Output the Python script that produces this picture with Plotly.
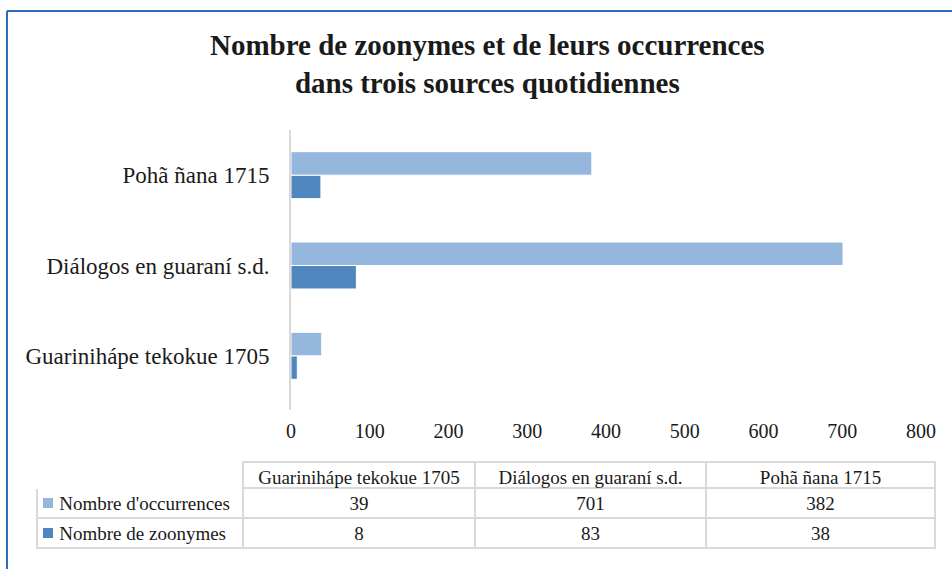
import plotly.graph_objects as go

# ---- data ----
categories = ["Guarinihápe tekokue 1705", "Diálogos en guaraní s.d.", "Pohã ñana 1715"]
occurrences = [39, 701, 382]
zoonymes = [8, 83, 38]
series_names = ["Nombre d'occurrences", "Nombre de zoonymes"]
x_ticks = [0, 100, 200, 300, 400, 500, 600, 700, 800]
title_lines = ["Nombre de zoonymes et de leurs occurrences", "dans trois sources quotidiennes"]

# ---- style ----
W, H = 952, 569
C_OCC = "#95b7de"
C_ZOO = "#4f86be"
GRID = "#d9d9d9"
SERIF = "Liberation Serif, Times New Roman, serif"

def px_x(p):
    return p / W

def px_y(p):
    return 1 - p / H

fig = go.Figure()

# Horizontal grouped bars: first trace sits lower in each group
fig.add_trace(go.Bar(
    y=categories, x=zoonymes, name=series_names[1], orientation="h",
    marker=dict(color=C_ZOO, line=dict(color="white", width=1)),
    showlegend=False, hoverinfo="x+y",
))
fig.add_trace(go.Bar(
    y=categories, x=occurrences, name=series_names[0], orientation="h",
    marker=dict(color=C_OCC, line=dict(color="white", width=1)),
    showlegend=False, hoverinfo="x+y",
))

# Data table below the chart
tbl_left, tbl_top = 37, 462
col_w = [206, 232, 231, 229]
head_h, row_h = 26, 30
label_cells = ["\u00a0\u00a0\u00a0" + n for n in series_names]
header_vals = [""] + categories
cell_cols = [label_cells] + [[str(o), str(z)] for o, z in zip(occurrences, zoonymes)]

fig.add_trace(go.Table(
    domain=dict(x=[px_x(tbl_left), px_x(tbl_left + sum(col_w))],
                y=[px_y(tbl_top + head_h + 2 * row_h + 4), px_y(tbl_top)]),
    columnwidth=col_w,
    header=dict(
        values=header_vals,
        height=head_h,
        align="center",
        fill=dict(color="white"),
        line=dict(color=["white", GRID, GRID, GRID], width=2),
        font=dict(family=SERIF, size=19, color="#1a1a1a"),
    ),
    cells=dict(
        values=cell_cols,
        height=row_h,
        align=["left", "center", "center", "center"],
        fill=dict(color="white"),
        line=dict(color=GRID, width=2),
        font=dict(family=SERIF, size=19, color="#1a1a1a"),
    ),
))

# legend keys inside the table's first column
key_shapes = []
for i, c in enumerate([C_OCC, C_ZOO]):
    cy = tbl_top + head_h + row_h * i + row_h / 2
    key_shapes.append(dict(
        type="rect", xref="paper", yref="paper",
        x0=px_x(tbl_left + 6), x1=px_x(tbl_left + 16),
        y0=px_y(cy + 5), y1=px_y(cy - 5),
        fillcolor=c, line=dict(width=0),
    ))

fig.update_layout(
    template="none",
    width=W, height=H,
    margin=dict(l=0, r=0, t=0, b=0, pad=0),
    paper_bgcolor="white", plot_bgcolor="white",
    barmode="group", bargap=0.48, bargroupgap=0,
    xaxis=dict(
        domain=[px_x(291), px_x(921)],
        range=[0, 800], tickvals=x_ticks,
        showgrid=False, zeroline=False, showline=False,
        ticks="", ticklen=0, automargin=False, ticklabelstandoff=7,
        tickfont=dict(family=SERIF, size=20, color="#1a1a1a"),
        anchor="y",
    ),
    yaxis=dict(
        domain=[px_y(410), px_y(130)],
        range=[-0.6, 2.5],
        type="category",
        showgrid=False, zeroline=False, automargin=False,
        showline=True, linecolor=GRID, linewidth=2,
        ticks="", ticklabelstandoff=15,
        tickfont=dict(family=SERIF, size=23, color="#1a1a1a"),
        anchor="x",
    ),
    annotations=[dict(
        x=px_x(488), y=px_y(64), xref="paper", yref="paper",
        xanchor="center", yanchor="middle", showarrow=False,
        text="<b>" + "<br>".join(title_lines) + "</b>",
        font=dict(family=SERIF, size=29, color="#1a1a1a"),
    )],
    shapes=[
        dict(type="line", xref="paper", yref="paper",
             x0=px_x(7), x1=1, y0=px_y(11), y1=px_y(11),
             line=dict(color="#2a6fb8", width=2)),
        dict(type="line", xref="paper", yref="paper",
             x0=px_x(7), x1=px_x(7), y0=px_y(11), y1=0,
             line=dict(color="#2a6fb8", width=2)),
    ] + key_shapes,
)

fig.write_html("out.html", config={"displayModeBar": False},
               post_script="document.body.style.margin='0px';")
